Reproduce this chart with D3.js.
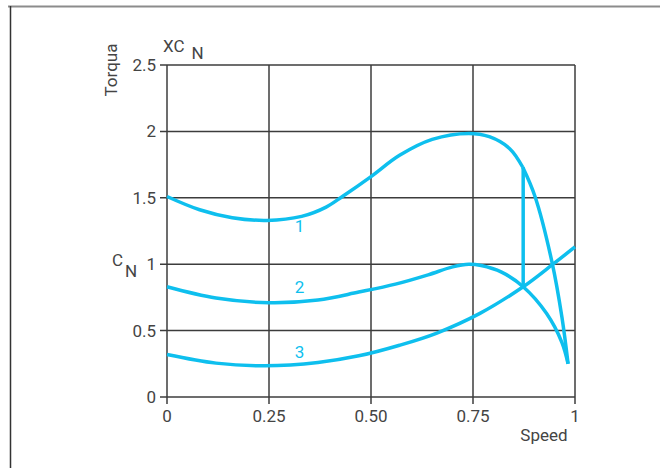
<head>
    <script src="https://d3js.org/d3.v7.min.js"></script>
    <style>
        body { margin: 0; background: #fff; }
        text { font-family: Roboto, "Noto Sans", sans-serif; }
    </style>
</head>
<body>
<script>
    // curve 1 (rising part, then the steep drop after the kink)
    let speed1 = [0, 0.08, 0.16, 0.245, 0.33, 0.39, 0.43, 0.5, 0.57, 0.65, 0.74, 0.79, 0.84, 0.872];
    let torque1 = [1.51, 1.41, 1.35, 1.33, 1.36, 1.43, 1.51, 1.66, 1.82, 1.94, 1.985, 1.96, 1.87, 1.73];
    let speed1b = [0.872, 0.902, 0.944, 0.968, 0.983];
    let torque1b = [1.73, 1.51, 1.01, 0.60, 0.25];
    // curve 2
    let speed2 = [0, 0.12, 0.25, 0.37, 0.47, 0.56, 0.64, 0.70, 0.74, 0.77, 0.82, 0.873, 0.93, 0.968, 0.983];
    let torque2 = [0.83, 0.745, 0.71, 0.73, 0.79, 0.85, 0.92, 0.98, 1.0, 0.99, 0.94, 0.83, 0.63, 0.41, 0.25];
    // curve 3
    let speed3 = [0, 0.12, 0.24, 0.37, 0.47, 0.57, 0.66, 0.767, 0.873, 0.946, 1.0];
    let torque3 = [0.32, 0.255, 0.235, 0.26, 0.31, 0.39, 0.48, 0.63, 0.83, 1.0, 1.13];
    // vertical link at the switch speed
    let switchSpeed = 0.873;
    let switchTorque = [1.73, 0.83];

    let xTicks = [0, 0.25, 0.5, 0.75, 1];
    let xTickLabels = ["0", "0.25", "0.50", "0.75", "1"];
    let yTicks = [0, 0.5, 1, 1.5, 2, 2.5];
    let yTickLabels = ["0", "0.5", "1", "1.5", "2", "2.5"];
    let curveLabels = ["1", "2", "3"];
    let curveLabelPos = [[0.325, 1.24], [0.325, 0.78], [0.325, 0.29]];

    let width = 660;
    let height = 468;
    let cyan = "#0ebfee";
    let gridColor = "#3c3c3c";
    let textColor = "#444";

    let svg = d3.select("body").append("svg")
        .attr("width", width)
        .attr("height", height);

    // frame
    svg.append("line")
        .attr("x1", 8).attr("x2", width)
        .attr("y1", 6.5).attr("y2", 6.5)
        .attr("stroke", "#8c8c8c").attr("stroke-width", 2);
    svg.append("line")
        .attr("x1", 10.5).attr("x2", 10.5)
        .attr("y1", 6).attr("y2", height)
        .attr("stroke", "#333").attr("stroke-width", 1.5);

    let x = d3.scaleLinear().domain([0, 1]).range([167, 575]);
    let y = d3.scaleLinear().domain([0, 2.5]).range([397, 65]);

    // grid lines, sticking out a little past the axes like ticks
    svg.selectAll(".hgrid")
        .data(yTicks)
        .join("line")
        .attr("class", "hgrid")
        .attr("x1", x(0) - 7)
        .attr("x2", x(1))
        .attr("y1", d => y(d))
        .attr("y2", d => y(d))
        .attr("stroke", gridColor)
        .attr("stroke-width", 1.5);

    svg.selectAll(".vgrid")
        .data(xTicks)
        .join("line")
        .attr("class", "vgrid")
        .attr("x1", d => x(d))
        .attr("x2", d => x(d))
        .attr("y1", y(2.5))
        .attr("y2", y(0) + 7)
        .attr("stroke", gridColor)
        .attr("stroke-width", 1.5);

    svg.selectAll(".ylabel")
        .data(yTicks)
        .join("text")
        .attr("class", "ylabel")
        .attr("x", x(0) - 11)
        .attr("y", d => y(d) + 6)
        .attr("text-anchor", "end")
        .attr("font-size", 17)
        .attr("fill", textColor)
        .text((d, i) => yTickLabels[i]);

    svg.selectAll(".xlabel")
        .data(xTicks)
        .join("text")
        .attr("class", "xlabel")
        .attr("x", d => x(d))
        .attr("y", y(0) + 25)
        .attr("text-anchor", "middle")
        .attr("font-size", 17)
        .attr("fill", textColor)
        .text((d, i) => xTickLabels[i]);

    // axis titles
    svg.append("text")
        .attr("transform", "translate(117,70) rotate(-90)")
        .attr("text-anchor", "middle")
        .attr("font-size", 17)
        .attr("fill", textColor)
        .text("Torqua");

    let xc = svg.append("text")
        .attr("x", 163)
        .attr("y", 52)
        .attr("font-size", 17)
        .attr("fill", textColor);
    xc.append("tspan").text("XC");
    xc.append("tspan").attr("dx", 7).attr("dy", 7).text("N");

    let cn = svg.append("text")
        .attr("x", 112)
        .attr("y", 266)
        .attr("font-size", 17)
        .attr("fill", textColor);
    cn.append("tspan").text("C");
    cn.append("tspan").attr("dx", 2).attr("dy", 11).text("N");

    svg.append("text")
        .attr("x", 544)
        .attr("y", 441)
        .attr("text-anchor", "middle")
        .attr("font-size", 17)
        .attr("fill", textColor)
        .text("Speed");

    // curves
    let line = d3.line()
        .x(d => x(d[0]))
        .y(d => y(d[1]))
        .curve(d3.curveCatmullRom.alpha(0.5));

    let series = [
        [speed1, torque1],
        [speed1b, torque1b],
        [speed2, torque2],
        [speed3, torque3]
    ].map(s => d3.zip(s[0], s[1]));

    svg.selectAll(".curve")
        .data(series)
        .join("path")
        .attr("class", "curve")
        .attr("d", line)
        .attr("fill", "none")
        .attr("stroke", cyan)
        .attr("stroke-width", 3.5)
        .attr("stroke-linejoin", "round");

    svg.append("line")
        .attr("x1", x(switchSpeed))
        .attr("x2", x(switchSpeed))
        .attr("y1", y(switchTorque[0]))
        .attr("y2", y(switchTorque[1]))
        .attr("stroke", cyan)
        .attr("stroke-width", 3.5);

    svg.selectAll(".clabel")
        .data(curveLabels)
        .join("text")
        .attr("class", "clabel")
        .attr("x", (d, i) => x(curveLabelPos[i][0]))
        .attr("y", (d, i) => y(curveLabelPos[i][1]))
        .attr("text-anchor", "middle")
        .attr("font-size", 17)
        .attr("fill", cyan)
        .text(d => d);
</script>
</body>
</html>
